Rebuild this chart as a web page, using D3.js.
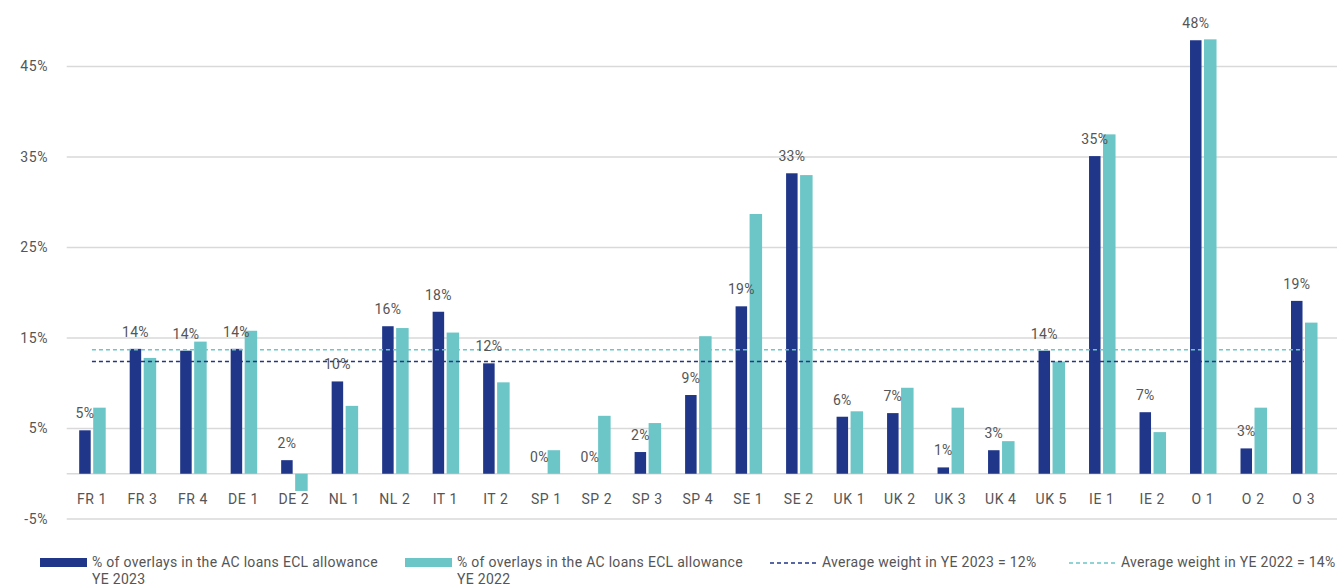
<!DOCTYPE html>
<html>
<head>
<meta charset="utf-8">
<script src="https://cdn.jsdelivr.net/npm/d3@7"></script>
<style>
  body { margin: 0; background: #fff; }
  svg { display: block; font-family: Roboto, "Liberation Sans", sans-serif; }
</style>
</head>
<body>
<svg id="chart" width="1337" height="588"></svg>
<script>
// categories and series
const categories = ["FR 1", "FR 3", "FR 4", "DE 1", "DE 2", "NL 1", "NL 2", "IT 1", "IT 2", "SP 1",
  "SP 2", "SP 3", "SP 4", "SE 1", "SE 2", "UK 1", "UK 2", "UK 3", "UK 4", "UK 5",
  "IE 1", "IE 2", "O 1", "O 2", "O 3"];
const ye2023 = [4.8, 13.8, 13.6, 13.8, 1.5, 10.2, 16.3, 17.9, 12.2, 0,
  0, 2.4, 8.7, 18.5, 33.2, 6.3, 6.7, 0.7, 2.6, 13.6,
  35.1, 6.8, 47.9, 2.8, 19.1];
const ye2022 = [7.3, 12.8, 14.6, 15.8, -1.9, 7.5, 16.1, 15.6, 10.1, 2.6,
  6.4, 5.6, 15.2, 28.7, 33.0, 6.9, 9.5, 7.3, 3.6, 12.4,
  37.5, 4.6, 48.0, 7.3, 16.7];
const avg2023 = 12.4;
const avg2022 = 13.7;
const yTicks = [-5, 5, 15, 25, 35, 45];
const legendLabels = [
  ["% of overlays in the AC loans ECL allowance", "YE 2023"],
  ["% of overlays in the AC loans ECL allowance", "YE 2022"],
  ["Average weight in YE 2023 = 12%"],
  ["Average weight in YE 2022 = 14%"]
];

const navy = "#203689", teal = "#6cc5c7", grid = "#d9d9d9", txt = "#555";

const svg = d3.select("#chart");
const x = d3.scaleBand().domain(categories).range([66.7, 1329]);
const y = d3.scaleLinear().domain([-5, 45]).range([519, 66.5]);

// gridlines
svg.append("g").selectAll("line")
  .data(yTicks.concat([0]))
  .join("line")
    .attr("x1", 66.7).attr("x2", 1337)
    .attr("y1", d => y(d)).attr("y2", d => y(d))
    .attr("stroke", grid).attr("stroke-width", 1.5);

// y axis labels
const yAxis = svg.append("g")
  .attr("transform", "translate(48,0)")
  .call(d3.axisLeft(y).tickValues(yTicks).tickSize(0).tickPadding(0).tickFormat(d => d + "%"));
yAxis.select(".domain").remove();
yAxis.selectAll("text").attr("fill", txt).style("font-size", "14px")
  .style("font-family", "Roboto, sans-serif").style("letter-spacing", "0.6px");

const bw = 11.5, gap = 2.5;
const cx = d => x(d) + x.bandwidth() / 2;

svg.append("g").selectAll("rect")
  .data(categories.map((c, i) => ({c, v: ye2023[i]})))
  .join("rect")
    .attr("x", d => cx(d.c) - gap / 2 - bw)
    .attr("width", bw)
    .attr("y", d => y(Math.max(0, d.v)))
    .attr("height", d => Math.abs(y(d.v) - y(0)))
    .attr("fill", navy);

svg.append("g").selectAll("rect")
  .data(categories.map((c, i) => ({c, v: ye2022[i]})))
  .join("rect")
    .attr("x", d => cx(d.c) + gap / 2)
    .attr("width", bw + 1)
    .attr("y", d => y(Math.max(0, d.v)))
    .attr("height", d => Math.abs(y(d.v) - y(0)))
    .attr("fill", teal);

// average dashed lines
[[avg2023, navy], [avg2022, teal]].forEach(([v, col]) => {
  svg.append("path")
    .attr("d", d3.line()([[cx(categories[0]), y(v)], [cx(categories[categories.length - 1]), y(v)]]))
    .attr("stroke", col).attr("stroke-width", 1.5)
    .attr("stroke-dasharray", "4,3").attr("fill", "none");
});

// data labels for YE 2023
svg.append("g").selectAll("text")
  .data(categories.map((c, i) => ({c, v: ye2023[i]})))
  .join("text")
    .attr("x", d => cx(d.c) - gap / 2 - bw / 2)
    .attr("y", d => y(Math.max(0, d.v)) - 12)
    .attr("text-anchor", "middle")
    .attr("fill", txt)
    .style("font-size", "14px")
    .style("letter-spacing", "0.3px")
    .text(d => Math.round(d.v) + "%");

// category labels
svg.append("g").selectAll("text")
  .data(categories)
  .join("text")
    .attr("x", d => cx(d))
    .attr("y", 504)
    .attr("text-anchor", "middle")
    .attr("fill", txt)
    .style("font-size", "14px")
    .style("letter-spacing", "0.6px")
    .text(d => d);

// legend
const lg = svg.append("g");
const legendX = [40, 405, 770, 1069];
legendLabels.forEach((lines, i) => {
  const g = lg.append("g").attr("transform", `translate(${legendX[i]},0)`);
  if (i < 2) {
    g.append("rect").attr("x", 0).attr("y", 558).attr("width", 47).attr("height", 9)
      .attr("fill", i === 0 ? navy : teal);
  } else {
    g.append("line").attr("x1", 0).attr("x2", 48).attr("y1", 563).attr("y2", 563)
      .attr("stroke", i === 2 ? navy : teal).attr("stroke-width", 1.5)
      .attr("stroke-dasharray", "4,3");
  }
  const t = g.append("text").attr("x", 52).attr("y", 567).attr("fill", txt)
    .style("font-size", "14px").style("letter-spacing", "0.3px");
  lines.forEach((s, j) => {
    t.append("tspan").attr("x", 52).attr("dy", j === 0 ? 0 : 17).text(s);
  });
});
</script>
</body>
</html>
